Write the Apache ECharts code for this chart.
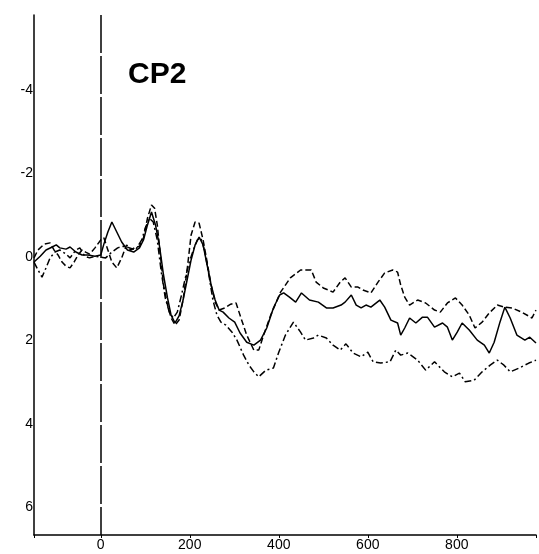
<!DOCTYPE html>
<html>
<head>
<meta charset="utf-8">
<script src="https://cdn.jsdelivr.net/npm/echarts@6/dist/echarts.min.js"></script>
<style>
html,body{margin:0;padding:0;background:#fff;}
#chart{width:539px;height:554px;}
</style>
</head>
<body>
<div id="chart"></div>
<script>
// Channel label
var channelName = 'CP2';

// X-axis (ms) tick labels and Y-axis (µV, negative up) tick labels
var xTickLabels = [0, 200, 400, 600, 800];
var yTickLabels = [-4, -2, 0, 2, 4, 6];

// Solid waveform: [time ms, amplitude]
var solidSeries = [
  [-150,0.12],[-136,-0.02],[-123,-0.17],[-109,-0.24],[-100,-0.29],[-92,-0.22],[-78,-0.19],[-69,-0.24],
  [-56,-0.12],[-42,-0.05],[-29,-0.05],[-13,-0.02],[0,-0.05],[7,-0.31],[16,-0.60],[25,-0.84],[36,-0.60],
  [47,-0.36],[60,-0.17],[74,-0.12],[87,-0.22],[96,-0.41],[105,-0.77],[114,-1.08],[123,-0.77],[132,-0.26],
  [141,0.43],[150,0.98],[158,1.39],[167,1.58],[176,1.41],[185,1.03],[194,0.55],[203,0.07],[212,-0.29],
  [221,-0.48],[230,-0.29],[239,0.19],[248,0.67],[257,1.03],[266,1.27],[275,1.32],[288,1.46],[301,1.56],
  [313,1.82],[328,2.04],[344,2.11],[359,1.99],[373,1.70],[388,1.22],[402,0.91],[411,0.86],[424,0.96],
  [438,1.08],[451,0.86],[469,1.03],[489,1.08],[507,1.22],[522,1.22],[540,1.15],[549,1.08],[563,0.91],
  [574,1.15],[585,1.22],[596,1.15],[607,1.20],[627,1.03],[638,1.20],[652,1.51],[667,1.58],[674,1.87],
  [683,1.70],[694,1.46],[708,1.58],[723,1.44],[734,1.44],[750,1.68],[768,1.58],[779,1.68],[790,1.99],
  [801,1.80],[812,1.58],[828,1.75],[846,1.99],[862,2.11],[873,2.30],[884,2.04],[897,1.56],[908,1.20],
  [920,1.46],[935,1.87],[953,1.99],[964,1.92],[978,2.06]
];

// Dashed waveform
var dashedSeries = [
  [-150,0.02],[-141,-0.17],[-127,-0.31],[-114,-0.34],[-105,-0.17],[-96,-0.05],[-87,0.12],[-78,0.22],
  [-69,0.26],[-60,0.12],[-51,-0.05],[-42,-0.17],[-34,-0.12],[-25,-0.07],[-13,-0.22],[0,-0.41],[7,-0.46],
  [16,-0.17],[25,0.12],[36,0.26],[47,0.02],[58,-0.29],[67,-0.17],[76,-0.22],[87,-0.26],[96,-0.46],
  [105,-0.93],[114,-1.25],[121,-1.17],[127,-0.77],[134,-0.05],[141,0.67],[150,1.15],[158,1.46],[167,1.63],
  [176,1.51],[185,1.03],[194,0.31],[203,-0.53],[212,-0.84],[221,-0.81],[230,-0.41],[239,0.12],[248,0.67],
  [257,1.08],[266,1.27],[279,1.22],[292,1.13],[304,1.10],[315,1.46],[328,1.87],[344,2.23],[355,2.23],
  [366,1.87],[382,1.39],[404,0.84],[426,0.50],[449,0.31],[473,0.31],[484,0.60],[500,0.74],[522,0.84],
  [538,0.60],[549,0.50],[563,0.72],[578,0.72],[589,0.79],[607,0.86],[623,0.60],[638,0.38],[656,0.31],
  [667,0.36],[674,0.67],[683,0.96],[694,1.15],[712,1.03],[730,1.10],[750,1.27],[763,1.32],[779,1.10],
  [797,0.98],[812,1.15],[828,1.39],[841,1.70],[857,1.56],[873,1.34],[891,1.15],[906,1.20],[924,1.22],
  [946,1.32],[969,1.46],[978,1.27]
];

// Dash-dot waveform
var dashDotSeries = [
  [-150,0.12],[-141,0.31],[-132,0.48],[-123,0.26],[-114,0.02],[-103,-0.12],[-92,-0.17],[-78,-0.07],
  [-69,0.02],[-56,-0.17],[-47,-0.22],[-36,-0.02],[-25,0.02],[-13,-0.02],[0,0],[11,0.02],[25,-0.12],
  [38,-0.22],[51,-0.26],[65,-0.22],[78,-0.17],[92,-0.41],[100,-0.69],[109,-0.93],[118,-0.84],[127,-0.41],
  [136,0.36],[145,0.98],[154,1.32],[163,1.46],[172,1.32],[181,0.93],[190,0.50],[199,0.12],[208,-0.17],
  [217,-0.41],[225,-0.46],[234,-0.12],[243,0.43],[252,1.03],[261,1.39],[270,1.56],[281,1.63],[295,1.80],
  [306,1.99],[321,2.35],[333,2.59],[344,2.75],[355,2.87],[371,2.71],[388,2.66],[400,2.28],[415,1.87],
  [433,1.56],[449,1.80],[460,1.99],[478,1.94],[489,1.87],[507,1.94],[522,2.11],[538,2.23],[551,2.08],
  [567,2.30],[585,2.39],[600,2.28],[612,2.51],[629,2.54],[650,2.51],[663,2.23],[674,2.35],[690,2.30],
  [712,2.47],[730,2.71],[750,2.51],[772,2.75],[790,2.87],[806,2.78],[819,2.99],[839,2.95],[857,2.75],
  [875,2.59],[891,2.47],[906,2.59],[920,2.75],[940,2.66],[962,2.54],[978,2.47]
];

var xMin = -150, xMax = 978;
var yMin = -5.8, yMax = 6.66;

var chart = echarts.init(document.getElementById('chart'), null, {renderer: 'canvas'});

function lineSeries(name, data, dash) {
  return {
    name: name,
    type: 'line',
    data: data,
    showSymbol: false,
    symbol: 'none',
    smooth: false,
    silent: true,
    animation: false,
    lineStyle: {color: '#000', width: 1.5, type: dash}
  };
}

var series = [
  lineSeries('solid', solidSeries, 'solid'),
  lineSeries('dashed', dashedSeries, [6, 3]),
  lineSeries('dashdot', dashDotSeries, [7, 3, 2, 3])
];
series[0].markLine = {
  silent: true,
  symbol: ['none', 'none'],
  label: {show: false},
  animation: false,
  lineStyle: {color: '#000', width: 1.5, type: [38, 3]},
  data: [{xAxis: 0}]
};

chart.setOption({
  backgroundColor: '#fff',
  animation: false,
  title: {
    text: channelName,
    left: 128,
    top: 60,
    padding: 0,
    textStyle: {fontFamily: 'Liberation Sans, Arial, sans-serif', fontWeight: 'bold', fontSize: 30, color: '#000'}
  },
  grid: {left: 34, right: 0, top: 15, bottom: 19, containLabel: false},
  xAxis: {
    type: 'value',
    min: xMin,
    max: xMax,
    splitLine: {show: false},
    axisLine: {show: true, onZero: false, lineStyle: {color: '#000', width: 1.5}},
    axisTick: {show: true, length: 3, lineStyle: {color: '#000'}},
    axisLabel: {
      margin: 3,
      color: '#000',
      fontSize: 14,
      fontFamily: 'Liberation Sans, Arial, sans-serif',
      formatter: function (v) { return xTickLabels.indexOf(Math.round(v)) >= 0 && Math.abs(v - Math.round(v)) < 1e-6 ? String(Math.round(v)) : ''; }
    }
  },
  yAxis: {
    type: 'value',
    inverse: true,
    min: yMin,
    max: yMax,
    splitLine: {show: false},
    axisLine: {show: true, onZero: false, lineStyle: {color: '#000', width: 1.5}},
    axisTick: {show: false},
    axisLabel: {
      margin: 1,
      color: '#000',
      fontSize: 14,
      fontFamily: 'Liberation Sans, Arial, sans-serif',
      formatter: function (v) { var r = Math.round(v); return (Math.abs(v - r) < 1e-6 && yTickLabels.indexOf(r) >= 0) ? String(r) : ''; }
    }
  },
  series: series
});
</script>
</body>
</html>
